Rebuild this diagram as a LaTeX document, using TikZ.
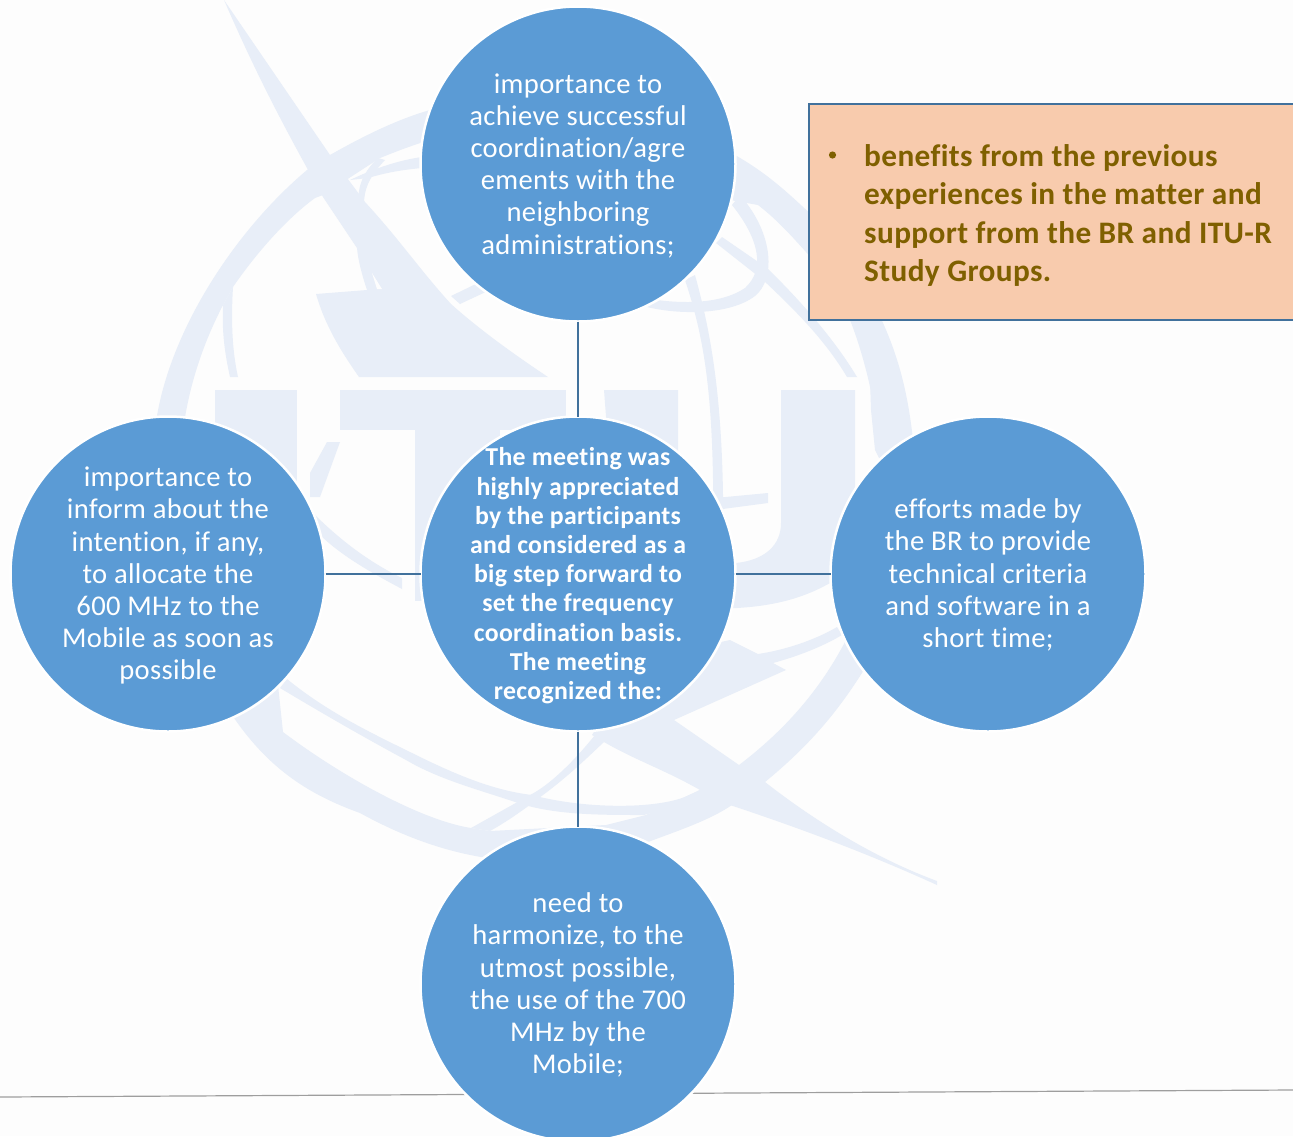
\documentclass[tikz,border=0pt]{standalone}
\usepackage{fontspec}
\setmainfont[LetterSpace=1.2,Ligatures=NoCommon]{Carlito}
\definecolor{wm}{HTML}{E8EEF8}
\definecolor{paper}{HTML}{FDFDFD}
\definecolor{bub}{HTML}{5B9BD5}
\definecolor{lnk}{HTML}{41719C}
\definecolor{boxf}{HTML}{F8CBAD}
\definecolor{boxt}{HTML}{7F6000}
\newcommand{\firsth}[1]{\rule{0pt}{#1pt}}
\tikzset{
  bubble/.style={circle,fill=bub,draw=white,line width=2.5pt,minimum size=315pt,inner sep=-40pt,outer sep=0pt,align=center,text=white,font=\fontsize{28.6}{32.2}\selectfont},
  hub/.style={bubble,font=\fontsize{25.8}{29.2}\selectfont\bfseries},
  link/.style={draw=lnk,line width=2.8pt},
  rule/.style={draw=black!38,line width=1.2pt}
}
\begin{document}
\begin{tikzpicture}[x=1pt,y=-1pt]
\useasboundingbox (0,0) rectangle (1293,1136);
\clip (0,0) rectangle (1293,1136);
\fill[paper] (0,0) rectangle (1293,1136);
% watermark: globe ring, upper left
\fill[wm] (155,430) .. controls (165,340) and (230,235) .. (307,170) -- (330,155) .. controls (360,138) and (395,120) .. (430,110) -- (430,140) .. controls (410,146) and (395,152) .. (380,158) -- (323,195) -- (315,198) .. controls (285,220) and (255,255) .. (233,287) -- (223,305) .. controls (205,340) and (190,380) .. (183,430) -- cycle;
% globe ring, upper right
\fill[wm] (735,155) .. controls (770,175) and (790,195) .. (815,218) -- (815,262) .. controls (795,240) and (780,222) .. (758,205) -- (730,200) -- cycle;
\fill[wm] (840,300) -- (872,300) .. controls (895,345) and (908,385) .. (914,450) -- (885,490) .. controls (882,440) and (870,370) .. (850,320) -- cycle;
% globe ring, bottom
\fill[wm] (225,705) -- (234,718) .. controls (270,770) and (310,795) .. (360,813) .. controls (400,835) and (440,850) .. (481,857) -- (560,870) -- (648,842) .. controls (680,830) and (710,820) .. (732,805) -- (765,782) .. controls (810,745) and (840,710) .. (870,660) -- (846,640) .. controls (820,690) and (785,730) .. (739,765) -- (700,790) -- (646,815) -- (606,825) -- (490,831) -- (471,828) .. controls (420,820) and (340,775) .. (283,732) -- (278,685) -- cycle;
% sail with its long swoosh
\fill[wm] (224,0) -- (330,155) -- (365,202) .. controls (400,240) and (420,270) .. (451,304) .. controls (480,330) and (515,355) .. (548,377) -- (359,377) .. controls (340,350) and (325,325) .. (316,294) -- (367,290) .. controls (362,275) and (358,260) .. (357,248) -- (323,197) -- (307,168) .. controls (275,110) and (250,60) .. (224,0) -- cycle;
\fill[paper] (372,273) -- (382,289) -- (377,289) -- cycle;
% thin strokes upper left
\fill[wm] (350,180) .. controls (375,168) and (400,160) .. (422,157) -- (422,168) .. controls (400,170) and (385,173) .. (368,178) -- cycle;
\fill[wm] (378,158) .. controls (360,175) and (358,190) .. (358,205) -- (364,205) .. controls (364,190) and (368,178) .. (385,160) -- cycle;
\fill[wm] (223,305) -- (233,287) .. controls (231,320) and (232,350) .. (238,377) -- (230,377) .. controls (224,350) and (222,330) .. (223,305) -- cycle;
% letters
\fill[wm] (215,390) rectangle (297,600);
\fill[wm] (340,390) rectangle (566,430);
\fill[wm] (415,430) rectangle (500,600.5);
\fill[wm] (604,390) -- (678,390) -- (678,600) -- (620,600) -- cycle;
\fill[wm] (781,390) -- (855,390) -- (855,520) .. controls (855,560) and (840,575) .. (830,583) .. controls (800,600) and (770,606) .. (737,608) -- (700,608) -- (700,564) -- (736,563) .. controls (765,560) and (781,545) .. (781,523) -- cycle;
% meridian and thin arcs
\fill[wm] (685,280) -- (695,275) .. controls (710,330) and (725,400) .. (723,545) -- (713,545) .. controls (715,400) and (705,340) .. (685,280) -- cycle;
\fill[wm] (722,237) -- (767,268) .. controls (800,300) and (835,340) .. (857,377) -- (847,377) .. controls (825,340) and (795,310) .. (763,280) -- (716,243) -- cycle;
\fill[wm] (647,307) -- (657,300) .. controls (680,303) and (720,305) .. (745,288) .. controls (765,270) and (760,240) .. (732,205) -- (740,195) .. controls (775,235) and (775,280) .. (755,296) .. controls (730,315) and (680,315) .. (647,307) -- cycle;
\fill[wm] (451,296) -- (482,281) -- (490,290) -- (460,304) -- cycle;
\fill[wm] (715,498) -- (768,493) -- (768,503) -- (715,510) -- cycle;
\fill[wm] (340,442) -- (327,442) -- (310,473) -- (310,497) -- (320,497) -- cycle;
\fill[wm] (313,513) .. controls (345,545) and (375,565) .. (402,578) -- (402,589) .. controls (370,572) and (340,555) .. (318,533) -- cycle;
\fill[wm] (870,380) -- (882,430) -- (885,470) -- (875,450) -- (871,410) -- cycle;
% lower thin swooshes and arrow
\fill[wm] (287,679) .. controls (325,710) and (365,730) .. (406,750) .. controls (450,772) and (490,790) .. (532,795) .. controls (580,808) and (650,810) .. (685,797) -- (700,790) -- (700,800) -- (644,815) .. controls (600,815) and (555,815) .. (518,803) .. controls (480,790) and (440,780) .. (406,760) .. controls (365,738) and (320,712) .. (280,688) -- cycle;
\fill[wm] (595,735) .. controls (575,760) and (550,785) .. (530,795) -- (471,828) -- (490,831) .. controls (510,820) and (530,805) .. (543,795) .. controls (570,775) and (590,755) .. (604,742) -- cycle;
\fill[wm] (730,640) -- (758,654) .. controls (785,650) and (815,640) .. (837,627) -- (842,635) .. controls (820,648) and (795,657) .. (773,663) -- (786,670) -- (674,720) -- (739,765) -- (765,782) .. controls (820,825) and (880,860) .. (937,881) -- (937,885) .. controls (860,850) and (790,825) .. (730,805) -- (700,790) .. controls (665,770) and (635,760) .. (604,742) -- (592,735) -- (640,660) -- cycle;
% rules
\coordinate (ruleL) at (0,1097);
\coordinate (ruleR) at (1293,1090);
\draw[rule] (ruleL) -- (ruleR);
% bubbles
\node[bubble] (top) at (578,164) {\firsth{23}importance to\\achieve successful\\coordination/agre\\ements with the\\neighboring\\administrations;};
\node[hub] (hub) at (578,574) {\firsth{21.6}The meeting was\\highly appreciated\\by the participants\\and considered as a\\big step forward to\\set the frequency\\coordination basis.\\The meeting\\recognized the:};
\node[bubble] (left) at (168,574) {\firsth{23}importance to\\inform about the\\intention, if any,\\to allocate the\\600 MHz to the\\Mobile as soon as\\possible};
\node[bubble] (right) at (988,574) {\firsth{22}efforts made by\\the BR to provide\\technical criteria\\and software in a\\short time;};
\node[bubble] (bottom) at (578,984) {\firsth{22}need to\\harmonize, to the\\utmost possible,\\the use of the 700\\MHz by the\\Mobile;};
\draw[link] (top) -- (hub);
\draw[link] (hub) -- (bottom);
\draw[link] (left) -- (hub);
\draw[link] (hub) -- (right);
% box
\node[draw=lnk,fill=boxf,line width=2.8pt,minimum width=520pt,minimum height=216pt,anchor=north west,outer sep=0pt] (box) at (809,104) {};
\node[anchor=north west,text=boxt,inner sep=0pt,align=left,font=\fontsize{31.3}{38.6}\selectfont\bfseries] (boxtext) at (864,144) {benefits from the previous\\experiences in the matter and\\support from the BR and ITU-R\\Study Groups.};
\fill[boxt] (832.5,155) circle (3.6pt);
\end{tikzpicture}
\end{document}
